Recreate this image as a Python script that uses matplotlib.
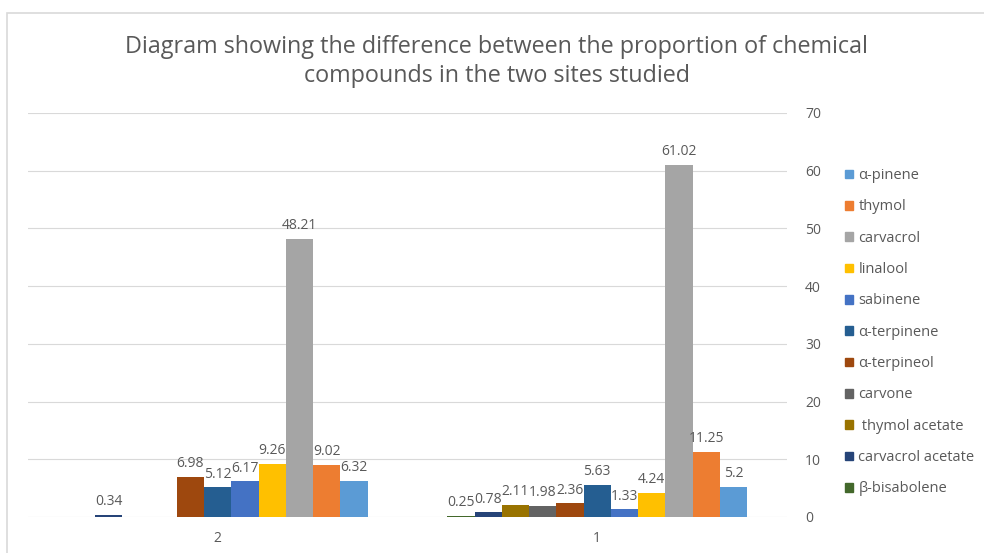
import matplotlib.pyplot as plt
from matplotlib.patches import Patch, Rectangle
import numpy as np

# Proportion (%) of each compound, per site
sites = ['2', '1']
compounds = ['α-pinene', 'thymol', 'carvacrol', 'linalool', 'sabinene',
             'α-terpinene', 'α-terpineol', 'carvone', ' thymol acetate',
             'carvacrol acetate', 'β-bisabolene']
site2 = [6.32, 9.02, 48.21, 9.26, 6.17, 5.12, 6.98, None, None, 0.34, None]
site1 = [5.2, 11.25, 61.02, 4.24, 1.33, 5.63, 2.36, 1.98, 2.11, 0.78, 0.25]
colors = ['#5B9BD5', '#ED7D31', '#A5A5A5', '#FFC000', '#4472C4', '#255E91',
          '#9E480E', '#636363', '#997300', '#264478', '#43682B']

txt = '#595959'
plt.rcParams['font.family'] = ['Open Sans', 'DejaVu Sans']

fig = plt.figure(figsize=(9.84, 5.53), dpi=100)
fig.patches.append(Rectangle((7 / 984, -0.1), 1.1, 1 - 13 / 553 + 0.1,
                             transform=fig.transFigure, fill=False,
                             edgecolor='#D9D9D9', linewidth=1.2))
ax = fig.add_axes([28 / 984, 1 - 517 / 553, (787 - 28) / 984, (517 - 113) / 553])

n = len(compounds)
w = 0.79 / n
x = np.arange(len(sites))
for i, name in enumerate(compounds):
    vals = [site2[i], site1[i]]
    off = (n // 2 - i) * w
    for xi, v in zip(x, vals):
        if v is None:
            continue
        ax.bar(xi + off, v, width=w, color=colors[i])
        ax.text(xi + off, v + 1.0, f'{v:g}', ha='center', va='bottom',
                fontsize=10, color=txt)

ax.set_xlim(-0.5, 1.5)
ax.set_ylim(0, 70)
ax.set_yticks(range(0, 71, 10))
ax.set_xticks(x)
ax.set_xticklabels(sites)
ax.yaxis.tick_right()
ax.tick_params(axis='both', length=0, colors=txt, labelsize=10)
ax.tick_params(axis='y', pad=13)
ax.tick_params(axis='x', pad=10)
ax.grid(axis='y', color='#D9D9D9', linewidth=0.8)
ax.set_axisbelow(True)
for s in ax.spines.values():
    s.set_visible(False)

fig.text(0.505, 1 - 35 / 553, 'Diagram showing the difference between the proportion of chemical\n'
         'compounds in the two sites studied', ha='center', va='top',
         fontsize=16.8, color=txt, linespacing=1.25)

handles = [Patch(color=c) for c in colors]
fig.legend(handles, compounds, loc='upper left', bbox_to_anchor=(832 / 984, 1 - 155 / 553),
           frameon=False, fontsize=10.5, handlelength=0.55, handleheight=0.55,
           handletextpad=0.35, labelspacing=1.12, labelcolor=txt)

fig.savefig('out.png', dpi=100)
